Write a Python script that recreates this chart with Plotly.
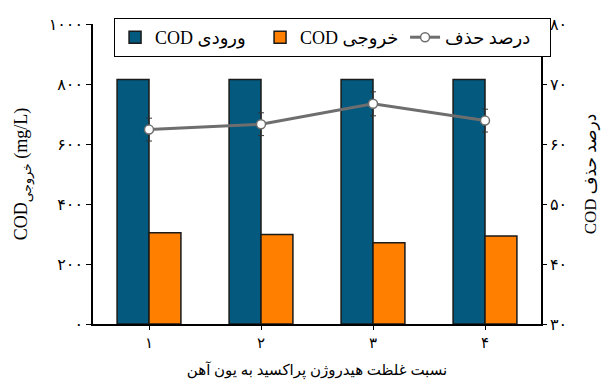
import plotly.graph_objects as go

categories = ["۱", "۲", "۳", "۴"]
cod_in = [815, 815, 815, 815]
cod_out = [304, 298, 271, 293]
removal = [62.4, 63.3, 66.7, 63.9]
removal_err = [1.9, 1.9, 2.0, 1.9]

left_ticks = [0, 200, 400, 600, 800, 1000]
left_labels = ["۰", "۲۰۰", "۴۰۰", "۶۰۰", "۸۰۰", "۱۰۰۰"]
right_ticks = [30, 40, 50, 60, 70, 80]
right_labels = ["۳۰", "۴۰", "۵۰", "۶۰", "۷۰", "۸۰"]

FONT = "Liberation Serif, DejaVu Sans, serif"

fig = go.Figure()
fig.add_trace(go.Bar(x=categories, y=cod_in, name="COD ورودی",
                     marker=dict(color="#03597E", line=dict(color="#1a1a1a", width=1.5))))
fig.add_trace(go.Bar(x=categories, y=cod_out, name="COD خروجی",
                     marker=dict(color="#FF7F00", line=dict(color="#1a1a1a", width=1.5))))
fig.add_trace(go.Scatter(x=categories, y=removal, name="درصد حذف", yaxis="y2",
                         mode="lines+markers",
                         line=dict(color="#6E6E6E", width=3),
                         marker=dict(color="white", size=9, line=dict(color="#6E6E6E", width=1.5)),
                         error_y=dict(type="data", array=removal_err, color="#333333",
                                      thickness=1, width=3)))

# page body has an 8px margin, so the figure is sized 8px smaller and offset accordingly
fig.update_layout(
    width=603, height=372,
    margin=dict(l=85, r=70, t=16, b=56, autoexpand=False),
    paper_bgcolor="white", plot_bgcolor="white",
    barmode="group", bargap=0.43, bargroupgap=0,
    font=dict(family=FONT, size=14, color="black"),
    showlegend=True,
    legend=dict(orientation="h", x=0.047, y=1.02, xanchor="left", yanchor="top",
                bgcolor="white", bordercolor="black", borderwidth=1,
                font=dict(size=18, family=FONT), entrywidth=100,
                traceorder="normal"),
    xaxis=dict(type="category", showline=True, linecolor="black", linewidth=1.5,
               ticks="outside", ticklen=4, tickcolor="black",
               tickfont=dict(size=15), range=[-0.5, 3.5],
               title=dict(text="نسبت غلظت هیدروژن پراکسید به یون آهن",
                          font=dict(size=15), standoff=20)),
    yaxis=dict(range=[0, 1000], tickvals=left_ticks, ticktext=left_labels,
               showline=True, linecolor="black", linewidth=1.5, showgrid=False,
               ticks="outside", ticklen=5, tickcolor="black", zeroline=False,
               tickfont=dict(size=16),
               title=dict(text="COD<sub>خروجی</sub> (mg/L)", font=dict(size=18), standoff=16)),
    yaxis2=dict(range=[30, 80], tickvals=right_ticks, ticktext=right_labels,
                overlaying="y", side="right", showline=True, linecolor="black", linewidth=1.5,
                showgrid=False, ticks="outside", ticklen=4, tickcolor="black", zeroline=False,
                tickfont=dict(size=16),
                title=dict(text="COD درصد حذف", font=dict(size=17), standoff=18)),
)

fig.write_html("out.html")
